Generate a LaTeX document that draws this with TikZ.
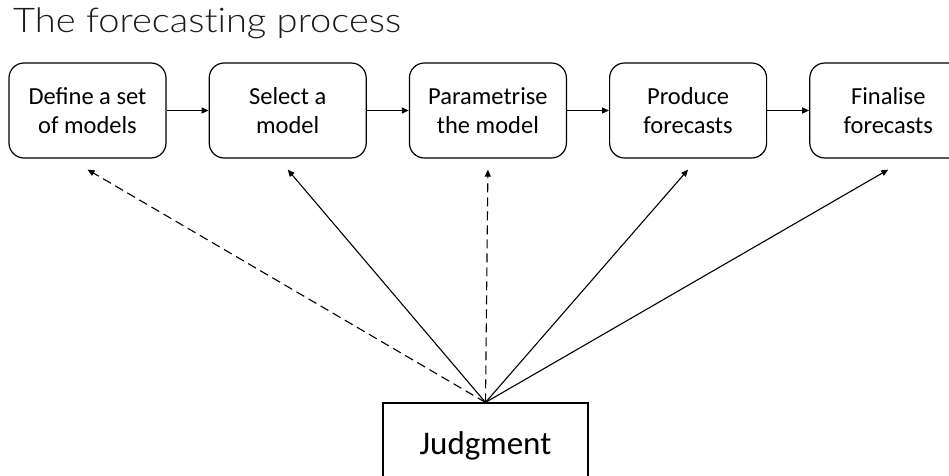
\documentclass[tikz,border=0pt]{standalone}
\usepackage{fontspec}
\usetikzlibrary{positioning, calc, arrows.meta}
\newfontfamily\boxfont{Carlito}
\IfFontExistsTF{Lato Light}{\newfontfamily\titlefont{Lato Light}[Ligatures=NoCommon]}{\newfontfamily\titlefont{Lato}[Ligatures=NoCommon]}
\definecolor{Ink}{HTML}{000000}
\definecolor{Title}{HTML}{1A1A1A}
\tikzset{
    stepnode/.style={rectangle, rounded corners=15pt, draw=Ink, line width=1.2pt, minimum width=157pt, minimum height=95pt, align=center, inner sep=0pt, font=\boxfont\fontsize{24.5}{29}\selectfont},
    judgenode/.style={rectangle, draw=Ink, line width=1.2pt, minimum width=205pt, minimum height=86pt, inner sep=0pt, font=\boxfont\fontsize{33}{38}\selectfont},
    arrow/.style={-{Triangle[length=7pt, width=6pt]}, line width=1.1pt, color=Ink},
    dasharrow/.style={arrow, dash pattern=on 9pt off 5pt},
}
\begin{document}
\begin{tikzpicture}[x=1pt, y=1pt]
    \useasboundingbox (0,0) rectangle (949,475);

    % Titolo
    \node[anchor=base west, inner sep=0pt, xscale=1.12, font=\titlefont\fontsize{34}{38}\selectfont, text=Title] (title) at (13,442) {The forecasting process};

    % Fasi del processo
    \node[stepnode] (define) at (87.5,364.5) {Define a set\\of models};
    \node[stepnode, right=42pt of define] (select) {Select a\\model};
    \node[stepnode, right=42pt of select] (param) {Parametrise\\the model};
    \node[stepnode, right=42pt of param] (produce) {Produce\\forecasts};
    \node[stepnode, right=42pt of produce] (finalise) {Finalise\\forecasts};

    \draw[arrow] (define) -- (select);
    \draw[arrow] (select) -- (param);
    \draw[arrow] (param) -- (produce);
    \draw[arrow] (produce) -- (finalise);

    % Giudizio
    \node[judgenode] (judge) at (485.5,29) {Judgment};

    % Punti d'arrivo sotto le fasi
    \foreach \s in {define, select, param, produce, finalise}
        \coordinate (\s-in) at ([yshift=-11pt]\s.south);

    \draw[dasharrow] (judge.north) -- (define-in);
    \draw[arrow] (judge.north) -- (select-in);
    \draw[dasharrow] (judge.north) -- (param-in);
    \draw[arrow] (judge.north) -- (produce-in);
    \draw[arrow] (judge.north) -- (finalise-in);
\end{tikzpicture}
\end{document}
